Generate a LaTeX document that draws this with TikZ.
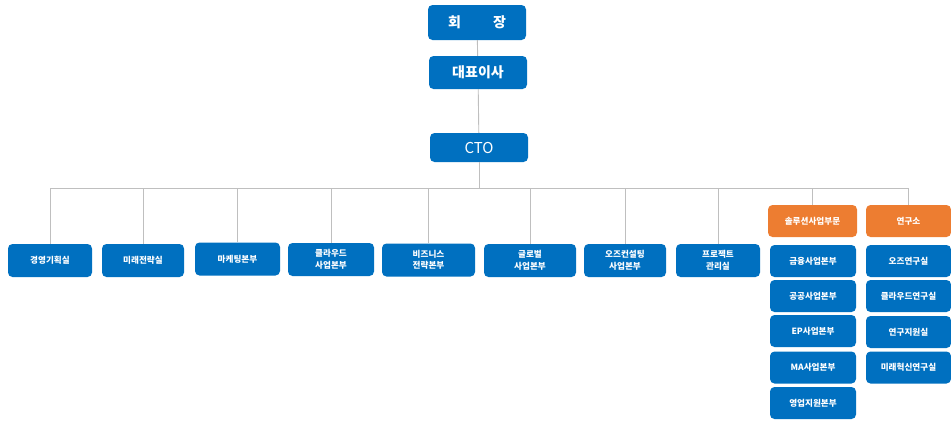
\documentclass[tikz,border=0pt]{standalone}
\usepackage{fontspec}
\setmainfont{Noto Sans CJK KR}
\usepackage{tikz}
\usetikzlibrary{positioning}
\definecolor{orgblue}{RGB}{0,112,192}
\definecolor{orgorange}{RGB}{237,125,49}
\definecolor{orgline}{RGB}{191,191,191}
\tikzset{
  topbox/.style={fill=orgblue, rounded corners=4.5pt, text=white, inner sep=0pt, font=\fontsize{14}{16}\selectfont\bfseries},
  unitbox/.style={fill=orgblue, rounded corners=4.5pt, text=white, inner sep=0pt, align=center, minimum height=33pt, font=\fontsize{8.6}{11.5}\selectfont\bfseries},
  headbox/.style={unitbox, fill=orgorange, minimum height=32pt},
  orgedge/.style={draw=orgline, line width=0.9pt}
}

\begin{document}
\begin{tikzpicture}[x=1pt, y=-1pt]
  \useasboundingbox (0,0) rectangle (951,421);
  \node (chair) [topbox, minimum width=98pt, minimum height=35pt] at (477,22.5) {회\hspace{2.3em}장};
  \node (ceo)   [topbox, minimum width=98pt, minimum height=33pt] at (478,72.5) {대표이사};
  \node (cto)   [topbox, minimum width=98pt, minimum height=29pt, font=\fontsize{15}{17}\selectfont] at (479,147.5) {CTO};

  \node (plan)      [unitbox, minimum width=84pt] at (50,260.5)  {경영기획실};
  \node (future)    [unitbox, minimum width=82pt] at (143,260.5) {미래전략실};
  \node (marketing) [unitbox, minimum width=85pt] at (237.5,259) {마케팅본부};
  \node (cloud)     [unitbox, minimum width=86pt] at (331,259.5) {클라우드\\사업본부};
  \node (business)  [unitbox, minimum width=93pt] at (428.5,260) {비즈니스\\전략본부};
  \node (global)    [unitbox, minimum width=92pt] at (530,260.5) {글로벌\\사업본부};
  \node (consult)   [unitbox, minimum width=82pt] at (625,260.5) {오즈컨설팅\\사업본부};
  \node (project)   [unitbox, minimum width=84pt] at (718,260.5) {프로젝트\\관리실};

  \node (solution) [headbox, minimum width=89pt] at (812.5,221) {솔루션사업부문};
  \node (lab)      [headbox, minimum width=85pt] at (908.5,221) {연구소};

  \node (finance) [unitbox, minimum width=86pt, minimum height=32pt] at (813,261)   {금융사업본부};
  \node (public)  [unitbox, minimum width=86pt, minimum height=32pt] at (813,296)   {공공사업본부};
  \node (ep)      [unitbox, minimum width=86pt, minimum height=32pt] at (813,331)   {EP사업본부};
  \node (ma)      [unitbox, minimum width=86pt, minimum height=32pt] at (813,367.5) {MA사업본부};
  \node (sales)   [unitbox, minimum width=86pt, minimum height=32pt] at (813,403)   {영업지원본부};

  \node (ozlab)    [unitbox, minimum width=85pt, minimum height=32pt] at (908.5,261)   {오즈연구실};
  \node (cloudlab) [unitbox, minimum width=85pt, minimum height=32pt] at (908.5,296)   {클라우드연구실};
  \node (support)  [unitbox, minimum width=85pt, minimum height=32pt] at (908.5,332)   {연구지원실};
  \node (innolab)  [unitbox, minimum width=85pt, minimum height=32pt] at (908.5,367.5) {미래혁신연구실};

  \coordinate (bus) at (479,188);
  \draw[orgedge] (chair) -- (ceo);
  \draw[orgedge] (ceo) -- (cto);
  \draw[orgedge] (cto) -- (bus);
  \foreach \unit in {plan,future,marketing,cloud,business,global,consult,project,solution,lab}
    \draw[orgedge] (\unit.north) |- (bus);
\end{tikzpicture}
\end{document}
